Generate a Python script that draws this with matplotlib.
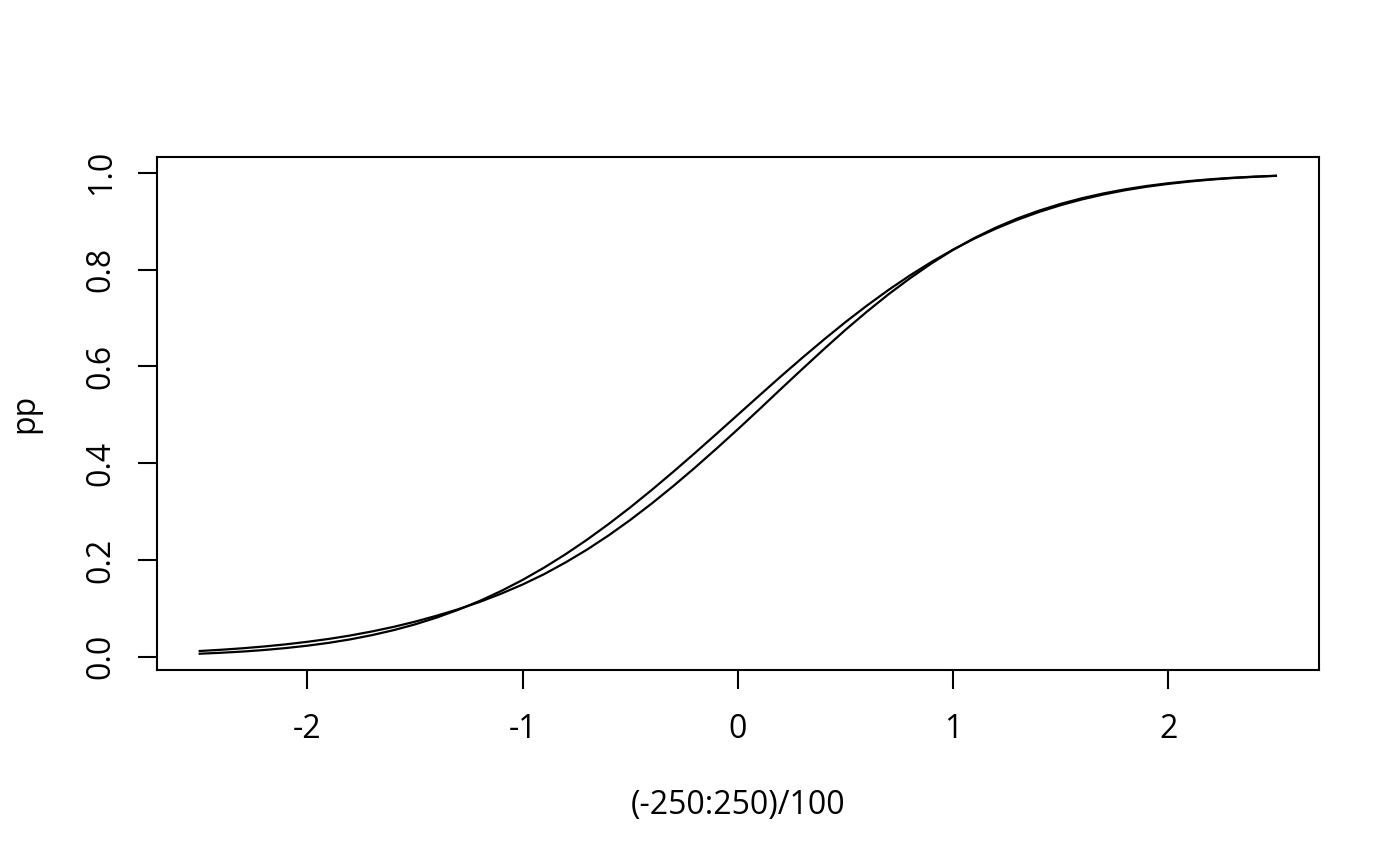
import numpy as np
import matplotlib
matplotlib.use("Agg")
import matplotlib.pyplot as plt

plt.rcParams["font.family"] = ["Open Sans", "DejaVu Sans"]

# x grid (-250:250)/100, read every 0.1
x = np.round(np.arange(-25, 26) / 10, 1)

# first curve (plot): heavier tails, ~0.47 at 0
pp_a = [0.0118, 0.0144, 0.0175, 0.0212, 0.0256, 0.0308, 0.0368, 0.0439, 0.0522, 0.0616,
        0.0724, 0.0846, 0.0980, 0.1131, 0.1302, 0.1492, 0.1706, 0.1949, 0.2215, 0.2508,
        0.2825, 0.3166, 0.3526, 0.3904, 0.4297, 0.4700, 0.5113, 0.5533, 0.5947, 0.6356,
        0.6755, 0.7132, 0.7490, 0.7821, 0.8129, 0.8408, 0.8655, 0.8871, 0.9059, 0.9220,
        0.9359, 0.9477, 0.9576, 0.9660, 0.9729, 0.9785, 0.9831, 0.9869, 0.9899, 0.9922,
        0.9940]

# second curve (lines): 0.5 at 0
pp_b = [0.0062, 0.0082, 0.0107, 0.0139, 0.0179, 0.0228, 0.0287, 0.0359, 0.0446, 0.0548,
        0.0668, 0.0808, 0.0968, 0.1151, 0.1357, 0.1587, 0.1841, 0.2119, 0.2420, 0.2743,
        0.3085, 0.3446, 0.3821, 0.4207, 0.4602, 0.5000, 0.5398, 0.5793, 0.6179, 0.6554,
        0.6915, 0.7257, 0.7580, 0.7881, 0.8159, 0.8413, 0.8643, 0.8849, 0.9032, 0.9192,
        0.9332, 0.9452, 0.9554, 0.9641, 0.9713, 0.9772, 0.9821, 0.9861, 0.9893, 0.9918,
        0.9938]

xticks = [-2, -1, 0, 1, 2]
yticks = [0.0, 0.2, 0.4, 0.6, 0.8, 1.0]

fig = plt.figure(figsize=(14, 8.66), dpi=100)
ax = fig.add_axes([0.1119, 0.2263, 0.8302, 0.5927])

ax.plot(x, pp_a, color="black", lw=1.6)
ax.plot(x, pp_b, color="black", lw=1.6)

# R style limits: 4% padding, y range from first curve
xr = x.max() - x.min()
ax.set_xlim(x.min() - 0.04 * xr, x.max() + 0.04 * xr)
yr = max(pp_a) - min(pp_a)
ax.set_ylim(min(pp_a) - 0.04 * yr, max(pp_a) + 0.04 * yr)

ax.set_xticks(xticks)
ax.set_xticklabels([str(t) for t in xticks])
ax.set_yticks(yticks)
ax.set_yticklabels([f"{t:.1f}" for t in yticks], rotation=90, va="center")

for s in ax.spines.values():
    s.set_linewidth(1.5)
ax.tick_params(length=14, width=1.5, labelsize=23)
ax.tick_params(axis="x", pad=17)
ax.tick_params(axis="y", pad=14)

ax.set_xlabel("(-250:250)/100", fontsize=23, labelpad=31)
ax.set_ylabel("pp", fontsize=23, labelpad=31)

fig.savefig("out.png", dpi=100)
